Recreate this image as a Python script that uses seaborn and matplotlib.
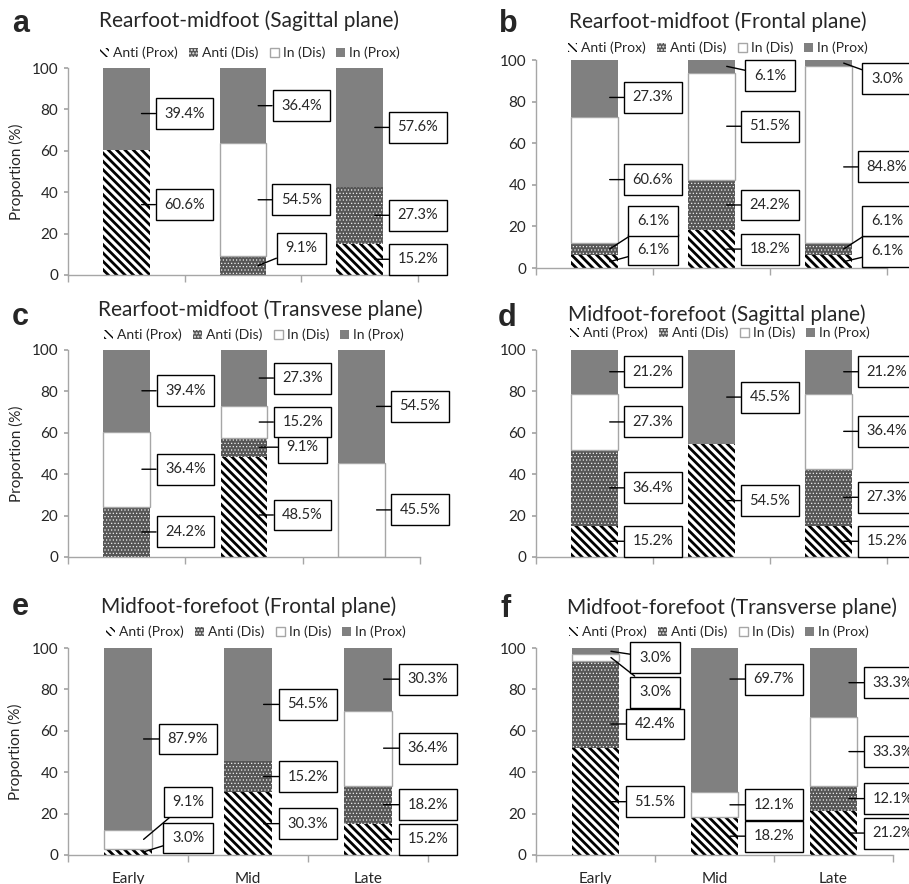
"""
Stacked proportion bars (anti-phase / in-phase coupling) for six foot joint planes
"""

import matplotlib
matplotlib.use("Agg")
import matplotlib.pyplot as plt
from matplotlib.patches import Patch
import numpy as np
import pandas as pd
import seaborn as sns

stages = ["Early", "Mid", "Late"]
series = ["Anti (Prox)", "Anti (Dis)", "In (Dis)", "In (Prox)"]
letters = ["a", "b", "c", "d", "e", "f"]
titles = [
    "Rearfoot-midfoot (Sagittal plane)",
    "Rearfoot-midfoot (Frontal plane)",
    "Rearfoot-midfoot (Transvese plane)",
    "Midfoot-forefoot (Sagittal plane)",
    "Midfoot-forefoot (Frontal plane)",
    "Midfoot-forefoot (Transverse plane)",
]

# rows: Anti (Prox), Anti (Dis), In (Dis), In (Prox); columns: Early, Mid, Late
panel_a = [[60.6, 0.0, 15.2], [0.0, 9.1, 27.3], [0.0, 54.5, 0.0], [39.4, 36.4, 57.6]]
panel_b = [[6.1, 18.2, 6.1], [6.1, 24.2, 6.1], [60.6, 51.5, 84.8], [27.3, 6.1, 3.0]]
panel_c = [[0.0, 48.5, 0.0], [24.2, 9.1, 0.0], [36.4, 15.2, 45.5], [39.4, 27.3, 54.5]]
panel_d = [[15.2, 54.5, 15.2], [36.4, 0.0, 27.3], [27.3, 0.0, 36.4], [21.2, 45.5, 21.2]]
panel_e = [[3.0, 30.3, 15.2], [0.0, 15.2, 18.2], [9.1, 0.0, 36.4], [87.9, 54.5, 30.3]]
panel_f = [[51.5, 18.2, 21.2], [42.4, 0.0, 12.1], [3.0, 12.1, 33.3], [3.0, 69.7, 33.3]]
panels = [panel_a, panel_b, panel_c, panel_d, panel_e, panel_f]

# label boxes that sit away from the middle of their segment: (panel, series, stage) -> y
label_y = {
    (0, 0, 0): 34, (0, 3, 0): 78, (0, 1, 1): 13,
    (1, 0, 0): 8.7, (1, 1, 0): 22.6, (1, 3, 0): 82, (1, 3, 1): 92.5,
    (1, 0, 2): 8.0, (1, 1, 2): 22.6, (1, 2, 2): 48.6, (1, 3, 2): 91,
    (2, 0, 1): 20.3,
    (4, 0, 0): 8.2, (4, 2, 0): 25.6,
    (5, 1, 0): 63.3, (5, 2, 0): 78.7, (5, 3, 0): 95.2, (5, 3, 1): 85,
}

# bar styles, bottom to top
styles = [
    dict(color="white", edgecolor="black", linewidth=0, hatch="\\\\\\\\"),
    dict(color="#565656", edgecolor="#f0f0f0", linewidth=0, hatch="....."),
    dict(color="white", edgecolor="#a6a6a6", linewidth=1.0, hatch=None),
    dict(color="#808080", edgecolor="#808080", linewidth=0, hatch=None),
]
hatch_lw = [2.0, 0.5, None, None]

W, H = 909, 884
# axes boxes in pixels: left, top, right, bottom
boxes = [(68, 68, 418, 275), (536, 60, 887, 268),
         (68, 350, 420, 557), (536, 350, 887, 557),
         (68, 648, 428, 855), (536, 648, 893, 855)]
title_xy = [(249, 27), (718, 28), (260, 316), (717, 321), (249, 613), (732, 614)]
letter_xy = [(12, 32), (499, 32), (12, 325), (498, 326), (12, 615), (500, 617)]
legend_xy = [(250, 53), (718, 48), (254, 335), (720, 333), (256, 632), (719, 632)]

sns.set_theme(style="white")
plt.rcParams['font.family'] = ['Lato', 'DejaVu Sans']

fig = plt.figure(figsize=(W / 100, H / 100), dpi=100)


def fx(px):
    return px / W


def fy(py):
    return 1 - py / H


def style_hatch(patches, lw):
    if lw is None:
        return
    for p in patches:
        if hasattr(p, "set_hatch_linewidth"):
            p.set_hatch_linewidth(lw)
        else:
            plt.rcParams['hatch.linewidth'] = lw


for k, vals in enumerate(panels):
    l, t, r, b = boxes[k]
    ax = fig.add_axes([fx(l), fy(b), (r - l) / W, (b - t) / H])

    bottom = np.zeros(len(stages))
    for s, row in enumerate(vals):
        df = pd.DataFrame({"stage": stages, "value": row})
        n_before = len(ax.patches)
        sns.barplot(data=df, x="stage", y="value", order=stages, bottom=bottom,
                    width=0.4, saturation=1, errorbar=None, ax=ax, **styles[s])
        new = ax.patches[n_before:]
        style_hatch(new, hatch_lw[s])
        for p, v in zip(new, row):
            if v == 0:
                p.set_linewidth(0)

        for i, v in enumerate(row):
            if v == 0:
                continue
            lo, hi = bottom[i], bottom[i] + v
            ly = label_y.get((k, s, i), (lo + hi) / 2)
            ay = ly if lo <= ly <= hi else (lo + hi) / 2
            ax.annotate(f"{v:.1f}%", xy=(i + 0.13, ay), xytext=(i + 0.5, ly),
                        ha="center", va="center", fontsize=10.5, zorder=5,
                        bbox=dict(boxstyle="square,pad=0.58", fc="white",
                                  ec="black", lw=1.0),
                        arrowprops=dict(arrowstyle="-", color="black", lw=1.0,
                                        shrinkA=0, shrinkB=0),
                        annotation_clip=False)
        bottom = bottom + np.array(row)

    ax.set_ylim(0, 100)
    ax.set_xlim(-0.5, 2.5)
    ax.set_yticks(range(0, 101, 20))
    ax.set_xticks(range(len(stages)))
    ax.set_xticks(np.arange(-0.5, 3, 1), minor=True)
    ax.tick_params(axis="x", which="major", length=0, labelsize=11, pad=12)
    ax.tick_params(axis="x", which="minor", length=5, color="#a6a6a6",
                   direction="out", bottom=True)
    ax.tick_params(axis="y", length=3, color="#a6a6a6", labelsize=11,
                   left=True, pad=4)
    if k >= 4:
        ax.set_xticklabels(stages)
    else:
        ax.set_xticklabels([])
    ax.set_xlabel("")
    if k % 2 == 0:
        ax.set_ylabel("Proportion (%)", fontsize=11)
        ax.yaxis.set_label_coords(-0.125, 0.5)
    else:
        ax.set_ylabel("")
    for side in ["top", "right"]:
        ax.spines[side].set_visible(False)
    for side in ["left", "bottom"]:
        ax.spines[side].set_color("#a6a6a6")
        ax.spines[side].set_linewidth(1.0)

    handles = []
    for s, name in enumerate(series):
        st = styles[s]
        h = Patch(facecolor=st["color"], edgecolor=st["edgecolor"],
                  linewidth=st["linewidth"], hatch=st["hatch"], label=name)
        style_hatch([h], hatch_lw[s])
        handles.append(h)
    lx, lyy = legend_xy[k]
    ax.legend(handles=handles, loc="center", ncol=4, frameon=False,
              bbox_to_anchor=(fx(lx), fy(lyy)), bbox_transform=fig.transFigure,
              fontsize=10, handlelength=0.65, handleheight=0.65,
              handletextpad=0.3, columnspacing=0.8, borderpad=0)

    tx, ty = title_xy[k]
    fig.text(fx(tx), fy(ty), titles[k], ha="center", va="baseline", fontsize=15)
    cx, cy = letter_xy[k]
    fig.text(fx(cx), fy(cy), letters[k], ha="left", va="baseline", fontsize=22,
             fontweight="bold", family=["Liberation Sans", "DejaVu Sans"])

fig.savefig("out.png", dpi=100)
